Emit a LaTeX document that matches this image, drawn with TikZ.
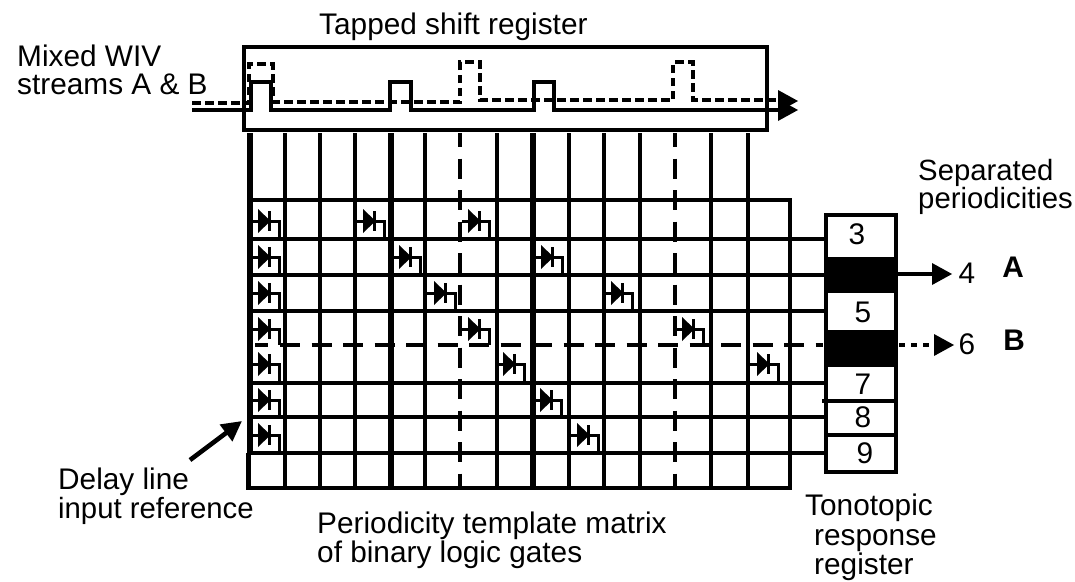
\documentclass[tikz,border=0pt]{standalone}
\usepackage{fontspec}
\setmainfont{Liberation Sans}
\usetikzlibrary{arrows.meta}
\tikzset{
  x=1pt,y=-1pt,
  lbl/.style={inner sep=0pt,anchor=base west,font=\fontsize{29.8}{30}\selectfont},
  lbls/.style={inner sep=0pt,anchor=base west,font=\fontsize{29.3}{30}\selectfont},
  num/.style={inner sep=0pt,font=\fontsize{29.8}{30}\selectfont},
  grid thin/.style={line width=3.5pt},
  grid thick/.style={line width=6pt},
  frame/.style={line width=4.6pt},
  longdash/.style={line width=4.5pt,dash pattern=on 20pt off 11.5pt},
  sig solid/.style={line width=4.6pt,line join=miter},
  sig dash/.style={line width=4pt,dash pattern=on 8.5pt off 4.5pt},
  dots/.style={line width=4.5pt,dash pattern=on 6pt off 6pt},
  tip/.style={-{Triangle[length=20pt,width=22pt]}},
}
\newcommand{\gate}[4]{% left x, centre y, bottom y, triangle x
  \draw[line width=3pt] (#1,#2) -- (#4,#2);
  \fill (#4,#2-12) -- (#4+12.5,#2) -- (#4,#2+12) -- cycle;
  \draw[line width=3.4pt] (#4+11.5,#2-10) -- (#4+11.5,#2+10);
  \draw[line width=3pt] (#4+12,#2) -| (#4+21,#3);
}
\begin{document}
\begin{tikzpicture}
\useasboundingbox (0,0) rectangle (1075,581);
% matrix horizontals
\foreach \y in {239,311,383,417,453} \draw[grid thin] (250,\y) -- (826,\y);
\draw[frame] (250,275) -- (826,275);
\draw[grid thin] (250,200) -- (790,200);
% verticals
\foreach \x in {285,320,355,425,497,569,604,640,748} \draw[grid thin] (\x,133) -- (\x,487);
\draw[grid thick] (250,133) -- (250,453);
\draw[frame] (248.5,453) -- (248.5,490);
\draw[grid thick] (391,133) -- (391,487);
\draw[grid thick] (533,133) -- (533,487);
\draw[frame] (711,133) -- (711,487);
\draw[frame] (790,198) -- (790,490);
\draw[frame] (246.5,488) -- (792,488);
\foreach \x in {460,675} \draw[longdash,dash phase=6pt] (\x,133) -- (\x,488);
\draw[longdash] (255,345) -- (268,345);
\draw[longdash] (280,345) -- (823,345);
% gates
\gate{250}{221}{239}{258}
\gate{250}{257}{275}{258}
\gate{250}{293}{311}{258}
\gate{250}{329}{345}{258}
\gate{250}{364}{383}{258}
\gate{250}{400}{417}{258}
\gate{250}{435}{453}{258}
\gate{355}{221}{239}{363}
\gate{391}{257}{275}{399}
\gate{425}{293}{311}{434}
\gate{462}{221}{239}{468}
\gate{460}{329}{345}{468}
\gate{497}{364}{383}{503}
\gate{533}{257}{275}{541}
\gate{533}{400}{417}{540}
\gate{569}{435}{453}{577}
\gate{604}{293}{311}{611}
\gate{675}{329}{345}{682}
\gate{748}{364}{383}{757}
% shift register
\draw[sig dash] (192,103) -- (249,103) -- (249,64) -- (273,64) -- (273,102) -- (460,102) -- (460,62) -- (480,62) -- (480,100) -- (673,100) -- (673,62) -- (693,62) -- (693,100) -- (778,100);
\draw[sig solid] (192,110) -- (251,110) -- (251,82) -- (271,82) -- (271,110) -- (390,110) -- (390,82) -- (411,82) -- (411,110) -- (534,110) -- (534,82) -- (554,82) -- (554,110) -- (778,110);
\node[draw,frame,inner sep=0pt,minimum width=523pt,minimum height=83pt] (sr) at (505.5,88.5) {};
\coordinate (sa) at (778,101);
\coordinate (sb) at (798,101);
\coordinate (sc) at (778,110);
\coordinate (sd) at (798,110);
\draw[tip,line width=0pt] (sa) -- (sb);
\draw[tip,line width=0pt] (sc) -- (sd);
% register
\node[draw,frame,fill=white,inner sep=0pt,minimum width=70pt,minimum height=257pt] (reg) at (861,343.5) {};
\fill (826,257) rectangle (896,293);
\fill (826,330) rectangle (896,367);
\draw[line width=3.4pt] (822,401) -- (896,401);
\draw[line width=3.4pt] (826,435) -- (896,435);
\node[num] (n3) at (857,234.5) {3};
\node[num] (n5) at (863,312) {5};
\node[num] (n7) at (863,384.5) {7};
\node[num] (n8) at (863,417) {8};
\node[num] (n9) at (865,453.5) {9};
\node[num] (n4) at (967,273) {4};
\node[num] (n6) at (967,344) {6};
\node[num,font=\bfseries\fontsize{29.8}{30}\selectfont] (A) at (1013,267.5) {A};
\node[num,font=\bfseries\fontsize{29.8}{30}\selectfont] (B) at (1014,340.5) {B};
\coordinate (ra) at (897,274);
\coordinate (rb) at (899,345);
\draw[line width=4.6pt] (ra) -- (935,274);
\draw[tip,line width=0pt] (932,274) -- (952,274);
\draw[dots] (rb) -- (935,345);
\draw[tip,line width=0pt] (934,345) -- (954,345);
% labels
\node[lbl] (t1) at (319,34) {Tapped shift register};
\node[lbl] (t2) at (17,66) {Mixed WIV};
\node[lbl] (t3) at (17,94) {streams A \& B};
\node[lbls] (t4) at (918,180) {Separated};
\node[lbls] (t5) at (918,208) {periodicities};
\node[lbl] (t6) at (58,489) {Delay line};
\node[lbls] (t7) at (58,518) {input reference};
\node[lbl] (t8) at (317,533) {Periodicity template matrix};
\node[lbl] (t9) at (317,562) {of binary logic gates};
\node[lbl] (t10) at (805,515) {Tonotopic};
\node[lbl] (t11) at (814,545) {response};
\node[lbl] (t12) at (814,574) {register};
\coordinate (da) at (190,460);
\coordinate (db) at (242,421);
\draw[line width=4.6pt,-{Triangle[length=20pt,width=20pt,sep=0pt]},shorten >=0pt] (da) -- (db);
\end{tikzpicture}
\end{document}
